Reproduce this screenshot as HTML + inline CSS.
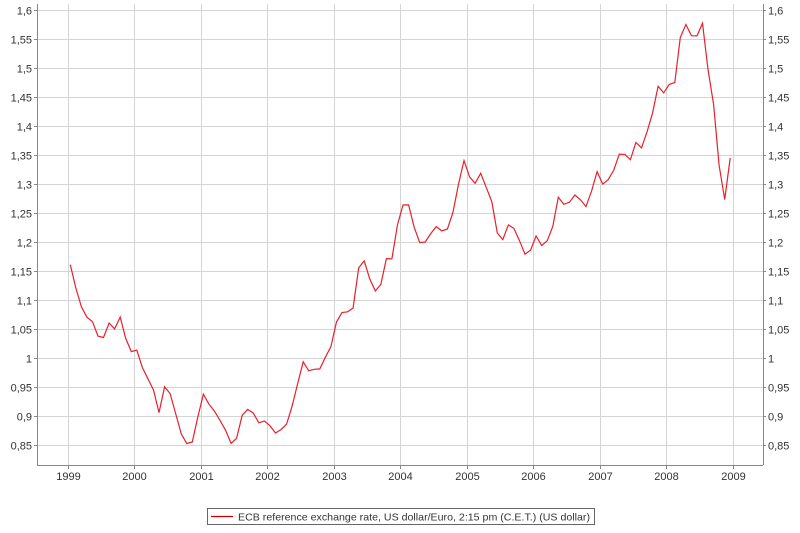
<!DOCTYPE html>
<html><head><meta charset="utf-8"><style>
body{margin:0;background:#fff;font-family:"Liberation Sans",sans-serif}
svg text{font-family:"Liberation Sans",sans-serif;font-size:11px;fill:#333}
</style></head><body>
<svg width="800" height="528">
<g id="grid"></g>
<g id="axes"></g>
<path id="line" fill="none" stroke="#e8202a" stroke-width="1.2"/>
<g>
<rect x="207.5" y="508.5" width="387" height="16" fill="#fff" stroke="#666"/>
<line x1="211" y1="516.5" x2="233" y2="516.5" stroke="#c00" stroke-width="1.2"/>
<text x="238" y="520.5" textLength="352" lengthAdjust="spacingAndGlyphs" style="font-size:10.5px">ECB reference exchange rate, US dollar/Euro, 2:15 pm (C.E.T.) (US dollar)</text>
</g>
</svg>
<script>
const years=[1999,2000,2001,2002,2003,2004,2005,2006,2007,2008,2009];
const yTicks=[0.85,0.9,0.95,1,1.05,1.1,1.15,1.2,1.25,1.3,1.35,1.4,1.45,1.5,1.55,1.6];
const rates=[1.1608,1.1208,1.0883,1.0704,1.0628,1.0378,1.0353,1.0604,1.0501,1.0706,1.0338,1.0110,
1.0137,0.9834,0.9643,0.9449,0.9059,0.9505,0.9386,0.9045,0.8695,0.8525,0.8552,0.8983,
0.9376,0.9205,0.9083,0.8925,0.8753,0.8530,0.8615,0.9014,0.9114,0.9050,0.8883,0.8912,
0.8832,0.8707,0.8766,0.8860,0.9170,0.9561,0.9935,0.9781,0.9806,0.9812,1.0013,1.0194,
1.0622,1.0785,1.0797,1.0862,1.1556,1.1674,1.1365,1.1155,1.1267,1.1714,1.1710,1.2298,
1.2638,1.2640,1.2261,1.1989,1.2000,1.2146,1.2266,1.2191,1.2224,1.2507,1.2997,1.3406,
1.3123,1.3012,1.3185,1.2943,1.2697,1.2155,1.2041,1.2295,1.2234,1.2022,1.1789,1.1861,
1.2103,1.1938,1.2020,1.2271,1.2770,1.2650,1.2684,1.2811,1.2727,1.2611,1.2881,1.3213,
1.2999,1.3074,1.3242,1.3516,1.3511,1.3419,1.3716,1.3622,1.3896,1.4227,1.4684,1.4570,
1.4718,1.4748,1.5527,1.5750,1.5557,1.5553,1.5770,1.4975,1.4370,1.3322,1.2732,1.3449];
const L=37,R=763,T=4,B=465;
const xs=t=>67.5+(t-1999)*66.55;
const ys=v=>445-(v-0.85)/0.05*29;
const NS="http://www.w3.org/2000/svg";
function mk(tag,attrs,parent,txt){const e=document.createElementNS(NS,tag);for(const k in attrs)e.setAttribute(k,attrs[k]);if(txt!=null)e.textContent=txt;parent.appendChild(e);return e;}
const grid=document.getElementById('grid'),axes=document.getElementById('axes');
yTicks.forEach(v=>{const y=Math.round(ys(v))+0.5;
const g=mk('line',{x1:L,x2:R,y1:y,y2:y,stroke:'#d4d4d4'},grid);


mk('line',{x1:L-3,x2:L,y1:y,y2:y,stroke:'#888'},axes);
mk('line',{x1:R,x2:R+3,y1:y,y2:y,stroke:'#888'},axes);
const lab=String(v).replace('.',',');
const a=mk('text',{x:L-5,y:y+4,'text-anchor':'end'},axes,lab);


const b=mk('text',{x:R+5,y:y+4},axes,lab);

});
years.forEach(yr=>{const x=Math.round(xs(yr))+0.5;
const g=mk('line',{x1:x,x2:x,y1:T,y2:B,stroke:'#d4d4d4'},grid);


mk('line',{x1:x,x2:x,y1:B,y2:B+4,stroke:'#888'},axes);
const t=mk('text',{x:x,y:480,'text-anchor':'middle'},axes,yr);

});
mk('line',{x1:L+0.5,x2:L+0.5,y1:T,y2:B,stroke:'#888'},axes);
mk('line',{x1:R+0.5,x2:R+0.5,y1:T,y2:B,stroke:'#888'},axes);
mk('line',{x1:L,x2:R,y1:B+0.5,y2:B+0.5,stroke:'#888'},axes);
document.getElementById('line').setAttribute('d',rates.map((v,i)=>(i?'L':'M')+xs(1999+(i+0.5)/12).toFixed(1)+','+ys(v).toFixed(1)).join(''));
</script>
</body></html>
